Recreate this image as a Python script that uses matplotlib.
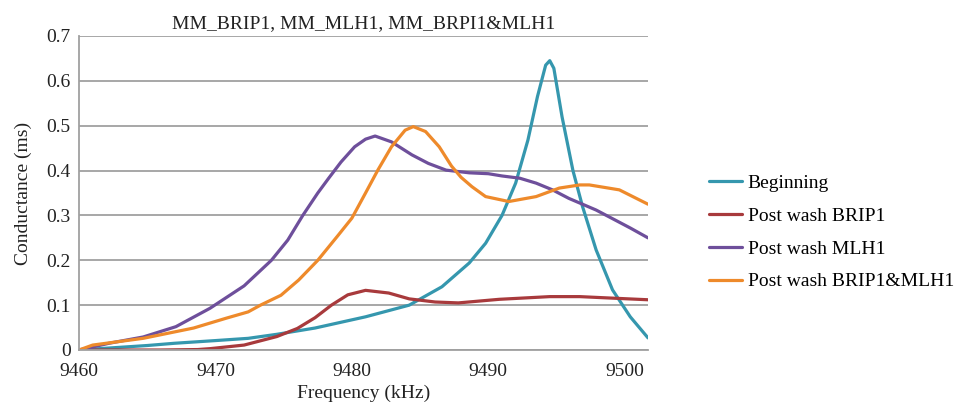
import matplotlib.pyplot as plt

plt.rcParams['font.family'] = ['Liberation Serif', 'DejaVu Serif']

# data
begin_x = [9460, 9462, 9465, 9467, 9470, 9472.4, 9474.5, 9477.3, 9481, 9484.2, 9486.6,
           9488.6, 9489.8, 9491.0, 9492.0, 9492.9, 9493.6, 9494.2, 9494.5, 9494.8, 9495.4,
           9496.2, 9496.9, 9497.9, 9499.1, 9500.4, 9501.7]
begin_y = [0, 0.004, 0.01, 0.015, 0.021, 0.026, 0.035, 0.049, 0.074, 0.1, 0.141,
           0.194, 0.238, 0.3, 0.372, 0.468, 0.565, 0.635, 0.645, 0.628, 0.52,
           0.4, 0.32, 0.223, 0.134, 0.074, 0.027]

brip_x = [9460, 9466, 9468.7, 9469.6, 9472.1, 9474.5, 9476, 9477.3, 9478.5, 9479.7, 9481.0,
          9482.7, 9484.2, 9486.1, 9487.8, 9490.8, 9494.5, 9496.7, 9498.1, 9501.7]
brip_y = [0, 0, 0.001, 0.003, 0.011, 0.03, 0.048, 0.072, 0.1, 0.123, 0.133,
          0.127, 0.114, 0.107, 0.105, 0.113, 0.119, 0.119, 0.117, 0.112]

mlh_x = [9460, 9462.2, 9464.7, 9467.1, 9469.6, 9472.1, 9474.1, 9475.3, 9476.4, 9477.5,
         9478.3, 9479.2, 9480.2, 9481.0, 9481.7, 9482.9, 9484.4, 9485.6, 9486.9, 9488.6,
         9490.0, 9491.0, 9492.3, 9493.5, 9494.7, 9495.9, 9497.9, 9500.4, 9501.7]
mlh_y = [0, 0.015, 0.029, 0.052, 0.093, 0.143, 0.2, 0.245, 0.3, 0.35,
         0.383, 0.419, 0.453, 0.47, 0.477, 0.464, 0.435, 0.416, 0.401, 0.395,
         0.393, 0.388, 0.383, 0.372, 0.357, 0.338, 0.312, 0.272, 0.25]

both_x = [9460, 9461, 9464.7, 9468.4, 9470.8, 9472.4, 9473.3, 9474.8, 9476.1, 9477.5,
          9479.0, 9480.0, 9481.0, 9481.9, 9482.9, 9483.9, 9484.5, 9485.4, 9486.4, 9487.3,
          9488.0, 9488.8, 9489.8, 9491.5, 9493.5, 9495.2, 9496.7, 9497.4, 9499.6, 9501.7]
both_y = [0, 0.011, 0.026, 0.049, 0.071, 0.085, 0.1, 0.122, 0.156, 0.2,
          0.256, 0.294, 0.35, 0.401, 0.453, 0.49, 0.498, 0.487, 0.453, 0.41,
          0.385, 0.364, 0.342, 0.331, 0.342, 0.361, 0.368, 0.368, 0.357, 0.325]

labels = ['Beginning', 'Post wash BRIP1', 'Post wash MLH1', 'Post wash BRIP1&MLH1']
colors = ['#3597AE', '#A83A3C', '#6E4F9B', '#EE8A2B']

fig = plt.figure(figsize=(9.65, 4.05), dpi=100)
ax = fig.add_axes([79 / 965, 55 / 405, 569 / 965, 314 / 405])

series = [(begin_x, begin_y), (brip_x, brip_y), (mlh_x, mlh_y), (both_x, both_y)]
for (x, y), lab, c in zip(series, labels, colors):
    ax.plot(x, y, color=c, lw=2.3, label=lab, solid_joinstyle='round', solid_capstyle='round')

ax.set_xlim(9460, 9501.7)
ax.set_ylim(0, 0.7)
ax.set_xticks([9460, 9470, 9480, 9490, 9500])
ax.set_yticks([0, 0.1, 0.2, 0.3, 0.4, 0.5, 0.6, 0.7])
ax.set_yticklabels(['0', '0.1', '0.2', '0.3', '0.4', '0.5', '0.6', '0.7'])
ax.yaxis.grid(True, color='#a0a0a0', lw=1.3)
ax.set_axisbelow(True)
ax.tick_params(length=0, labelsize=14, colors='#222222')
ax.tick_params(axis='y', pad=6)
ax.tick_params(axis='x', pad=9)
for s in ['top', 'right']:
    ax.spines[s].set_visible(False)
for s in ['left', 'bottom']:
    ax.spines[s].set_color('#a0a0a0')
    ax.spines[s].set_linewidth(1.3)

ax.set_title('MM_BRIP1, MM_MLH1, MM_BRPI1&MLH1', fontsize=14, color='#222222', pad=6)
ax.set_xlabel('Frequency (kHz)', fontsize=14, color='#222222', labelpad=4)
ax.set_ylabel('Conductance (ms)', fontsize=14, color='#222222', labelpad=10)

fig.legend(loc='center left', bbox_to_anchor=(709 / 965, 172.5 / 405), frameon=False,
           fontsize=14, handlelength=1.7, handletextpad=0.3, labelspacing=0.78,
           borderpad=0, borderaxespad=0)

fig.savefig('out.png', dpi=100)
